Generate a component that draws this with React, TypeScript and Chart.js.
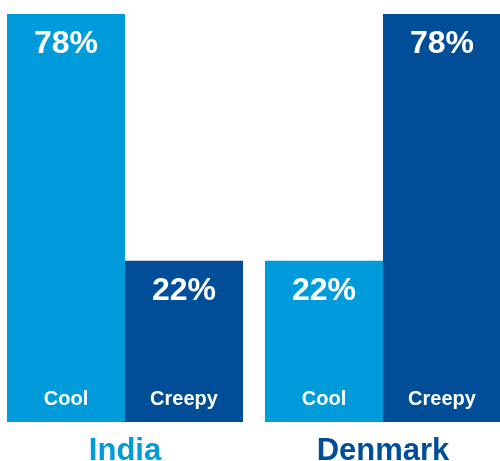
import React, { useEffect, useRef } from "react";
import { Chart, registerables } from "chart.js";

Chart.register(...registerables);

const countries = ["India", "Denmark"];
const seriesNames = ["Cool", "Creepy"];
const coolValues = [78, 22];
const creepyValues = [22, 78];
const axisMax = 78;
const axisFloor = -14.6;

const LIGHT = "#009BDB";
const DARK = "#004E98";
const seriesColors = [LIGHT, DARK];
const countryColors = [LIGHT, DARK];
const FONT = "'Liberation Sans', Arial, Helvetica, sans-serif";

const labelPlugin = {
  id: "barLabels",
  afterDatasetsDraw(chart: any) {
    const ctx = chart.ctx;
    ctx.save();
    ctx.textAlign = "center";
    ctx.textBaseline = "alphabetic";
    ctx.fillStyle = "#ffffff";
    chart.data.datasets.forEach((ds: any, di: number) => {
      const meta = chart.getDatasetMeta(di);
      meta.data.forEach((bar: any, i: number) => {
        const top = Math.min(bar.y, bar.base);
        const bottom = Math.max(bar.y, bar.base);
        ctx.font = `bold 32px ${FONT}`;
        ctx.fillText(`${ds.data[i]}%`, bar.x, top + 39);
        ctx.font = `bold 20px ${FONT}`;
        ctx.fillText(ds.label, bar.x, bottom - 17.5);
      });
    });
    const xs = chart.scales.x;
    ctx.font = `bold 31px ${FONT}`;
    countries.forEach((c, i) => {
      ctx.fillStyle = countryColors[i];
      ctx.fillText(c, xs.getPixelForValue(i), 460);
    });
    ctx.restore();
  },
};

export default function App() {
  const ref = useRef<HTMLCanvasElement | null>(null);
  useEffect(() => {
    if (!ref.current) return;
    const chart = new Chart(ref.current, {
      type: "bar",
      data: {
        labels: countries,
        datasets: [
          {
            label: seriesNames[0],
            data: coolValues,
            backgroundColor: seriesColors[0],
            borderWidth: 0,
            base: axisFloor,
            barPercentage: 1,
            categoryPercentage: 0.915,
          },
          {
            label: seriesNames[1],
            data: creepyValues,
            backgroundColor: seriesColors[1],
            borderWidth: 0,
            base: axisFloor,
            barPercentage: 1,
            categoryPercentage: 0.915,
          },
        ],
      },
      options: {
        responsive: false,
        animation: false,
        layout: { padding: { top: 14, bottom: 39, left: 0, right: 0 } },
        plugins: { legend: { display: false }, tooltip: { enabled: false } },
        scales: {
          x: { display: false },
          y: { display: false, min: axisFloor, max: axisMax },
        },
      },
      plugins: [labelPlugin],
    });
    return () => chart.destroy();
  }, []);
  return (
    <div
      style={{
        position: "fixed",
        left: 0,
        top: 0,
        width: 500,
        height: 461,
        overflow: "hidden",
        background: "#ffffff",
      }}
    >
      <canvas
        ref={ref}
        width={516}
        height={461}
        style={{ position: "absolute", left: -4, top: 0, width: 516, height: 461 }}
      />
    </div>
  );
}
